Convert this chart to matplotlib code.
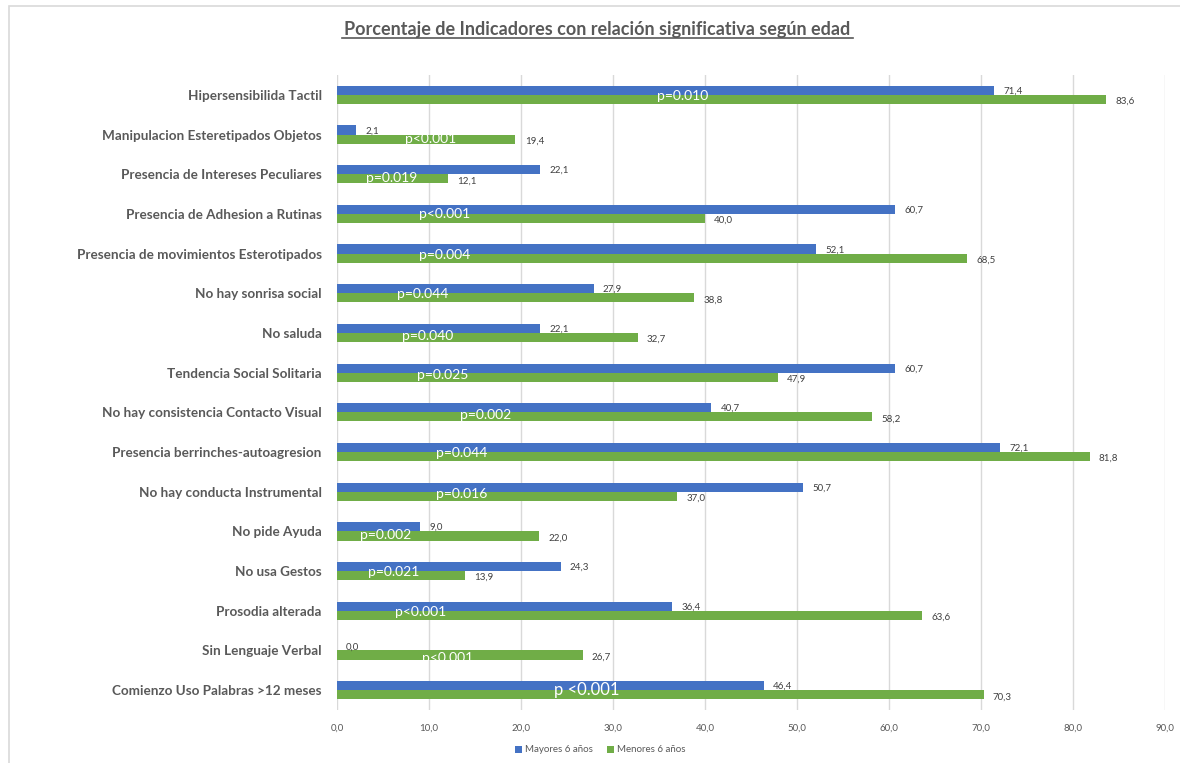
import matplotlib.pyplot as plt
from matplotlib.patches import Rectangle
import numpy as np

plt.rcParams['font.family'] = ['Lato', 'DejaVu Sans']

# data

categories = [
    'Hipersensibilida Tactil',
    'Manipulacion Esteretipados Objetos',
    'Presencia de Intereses Peculiares',
    'Presencia de Adhesion a Rutinas',
    'Presencia de movimientos Esterotipados',
    'No hay sonrisa social',
    'No saluda',
    'Tendencia Social Solitaria',
    'No hay consistencia Contacto Visual',
    'Presencia berrinches-autoagresion',
    'No hay conducta Instrumental',
    'No pide Ayuda',
    'No usa Gestos',
    'Prosodia alterada',
    'Sin Lenguaje Verbal',
    'Comienzo Uso Palabras >12 meses',
]
mayores = [71.4, 2.1, 22.1, 60.7, 52.1, 27.9, 22.1, 60.7, 40.7, 72.1, 50.7, 9.0, 24.3, 36.4, 0.0, 46.4]
menores = [83.6, 19.4, 12.1, 40.0, 68.5, 38.8, 32.7, 47.9, 58.2, 81.8, 37.0, 22.0, 13.9, 63.6, 26.7, 70.3]
p_labels = ['p=0.010', 'p<0.001', 'p=0.019', 'p<0.001', 'p=0.004', 'p=0.044', 'p=0.040', 'p=0.025',
            'p=0.002', 'p=0.044', 'p=0.016', 'p=0.002', 'p=0.021', 'p<0.001', 'p<0.001', 'p <0.001']

# where the p text boxes sit (x in data units, y offset from category centre)
p_x = [37.6, 10.2, 5.9, 11.7, 11.7, 9.3, 9.9, 11.5, 16.2, 13.6, 13.6, 5.3, 6.2, 9.1, 12.0, 27.1]
p_dy = [0.03, 0.11, 0.10, 0.0, 0.03, 0.02, 0.08, 0.07, 0.06, 0.03, 0.07, 0.08, 0.02, 0.03, 0.2, 0.0]

blue = '#4472C4'
green = '#70AD47'
grey = '#595959'

fig = plt.figure(figsize=(11.8, 7.63), dpi=100)
fig.patches.append(Rectangle((9 / 1180, -0.05), 1.2, 1 - 6 / 763 + 0.05, transform=fig.transFigure,
                             fill=False, edgecolor='#D9D9D9', lw=1.2))

ax = fig.add_axes([337 / 1180, 1 - 710 / 763, 828 / 1180, 635 / 763])

y = np.arange(len(categories))
h = 0.23
ax.barh(y - h / 2, mayores, height=h, color=blue, label='Mayores 6 años', zorder=2)
ax.barh(y + h / 2, menores, height=h, color=green, label='Menores 6 años', zorder=2)

for i in range(len(categories)):
    ax.text(mayores[i] + 1.0, y[i] - h / 2 + 0.02, f'{mayores[i]:.1f}'.replace('.', ','),
            va='center', ha='left', fontsize=7, color='#404040', zorder=3)
    ax.text(menores[i] + 1.0, y[i] + h / 2 + 0.05, f'{menores[i]:.1f}'.replace('.', ','),
            va='center', ha='left', fontsize=7, color='#404040', zorder=3)
    size = 12 if i == len(categories) - 1 else 10
    ax.text(p_x[i], y[i] + p_dy[i], p_labels[i], ha='center', va='center',
            fontsize=size, color='white', zorder=4)

ax.set_xlim(0, 90)
ax.set_ylim(len(categories) - 0.5, -0.5)
ax.set_xticks(np.arange(0, 91, 10))
ax.set_xticklabels([f'{v:.1f}'.replace('.', ',') for v in np.arange(0, 91, 10)],
                   fontsize=7, color=grey)
ax.set_yticks(y)
ax.set_yticklabels(categories, fontsize=9.7, fontweight='bold', color=grey)
ax.tick_params(axis='both', length=0)
ax.tick_params(axis='y', pad=11)
ax.tick_params(axis='x', pad=10)
ax.xaxis.grid(True, color='#D9D9D9', lw=1)
ax.set_axisbelow(True)
for s in ax.spines.values():
    s.set_visible(False)

fig.text(597 / 1180, 1 - 29 / 763, 'Porcentaje de Indicadores con relación significativa según edad',
         ha='center', va='center', fontsize=13, fontweight='bold', color=grey)
fig.add_artist(plt.Line2D([342 / 1180, 853 / 1180], [1 - 38 / 763, 1 - 38 / 763], color=grey, lw=1.2))

fig.legend(loc='center', bbox_to_anchor=(600 / 1180, 1 - 750 / 763), ncol=2, frameon=False,
           fontsize=7, handlelength=0.7, handleheight=0.7, handletextpad=0.3, columnspacing=1.5,
           labelcolor=grey)

fig.savefig('out.png', dpi=100)
